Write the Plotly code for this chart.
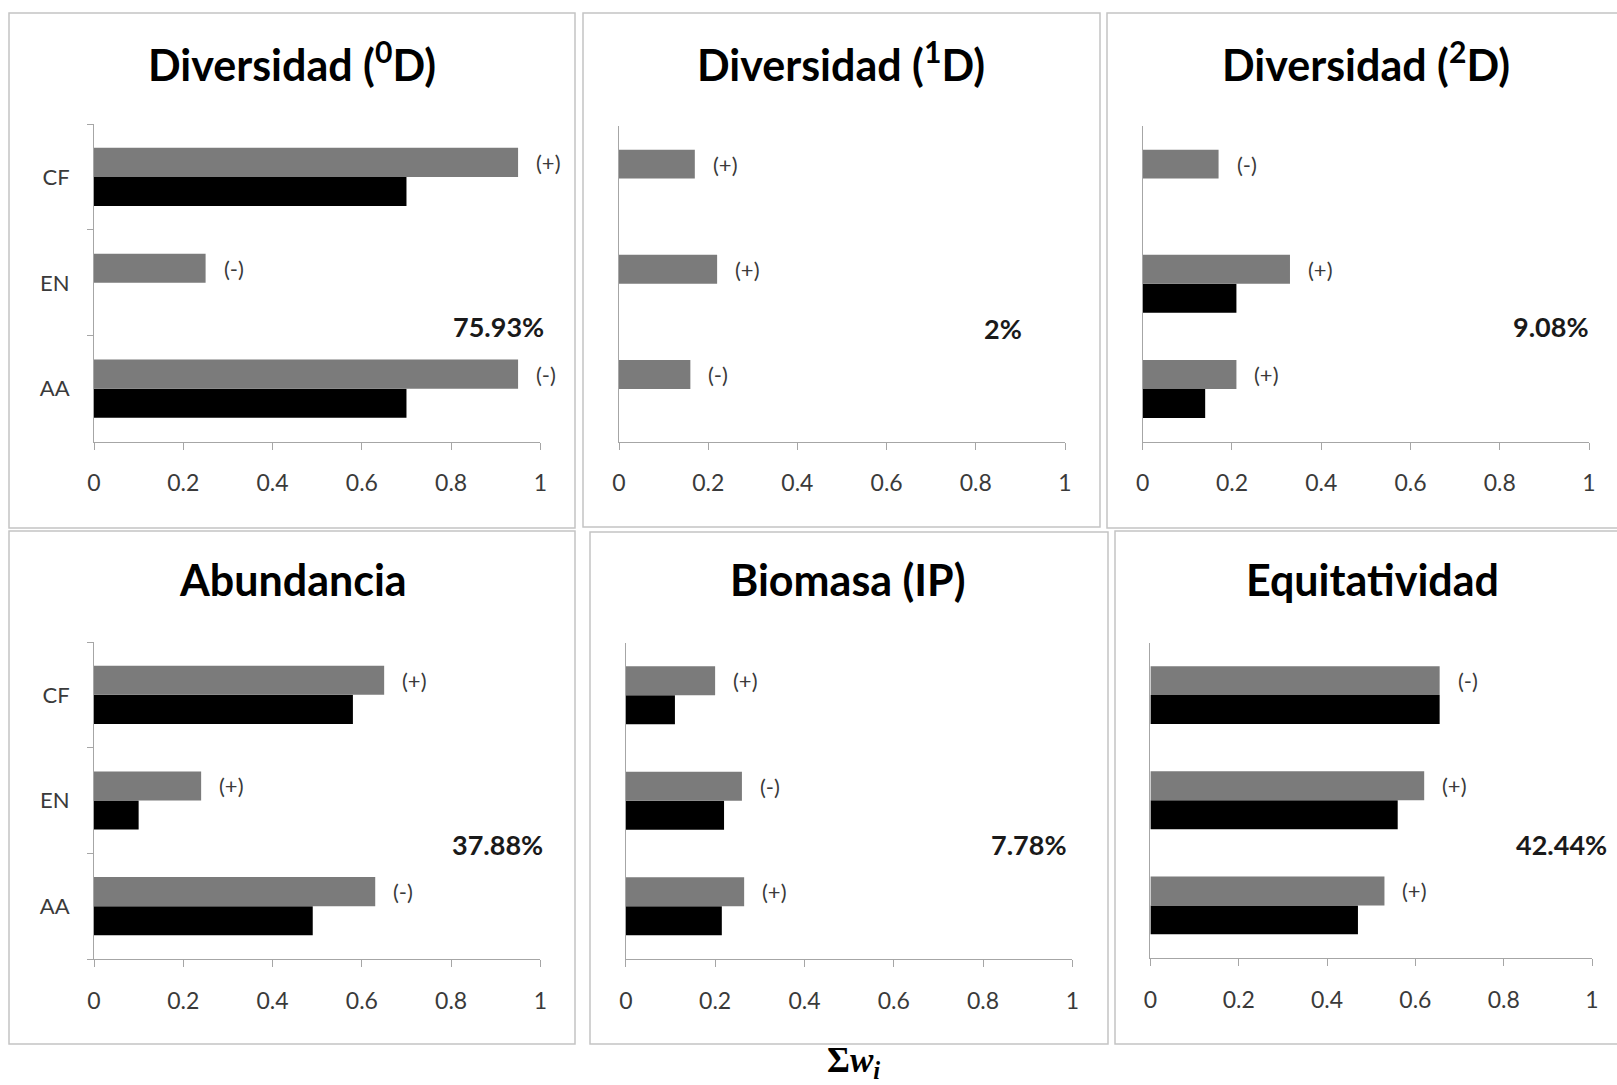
import plotly.graph_objects as go

# ---- data -------------------------------------------------------------
categories = ["AA", "EN", "CF"]          # bottom -> top
x_ticks = [0, 0.2, 0.4, 0.6, 0.8, 1]
x_tick_text = ["0", "0.2", "0.4", "0.6", "0.8", "1"]

titles = ["Diversidad (<sup>0</sup>D)", "Diversidad (<sup>1</sup>D)",
          "Diversidad (<sup>2</sup>D)", "Abundancia", "Biomasa (IP)",
          "Equitatividad"]

gray_0D = [0.95, 0.25, 0.95]
black_0D = [0.70, 0.0, 0.70]
signs_0D = ["(-)", "(-)", "(+)"]

gray_1D = [0.16, 0.22, 0.17]
black_1D = [0.0, 0.0, 0.0]
signs_1D = ["(-)", "(+)", "(+)"]

gray_2D = [0.21, 0.33, 0.17]
black_2D = [0.14, 0.21, 0.0]
signs_2D = ["(+)", "(+)", "(-)"]

gray_abund = [0.63, 0.24, 0.65]
black_abund = [0.49, 0.10, 0.58]
signs_abund = ["(-)", "(+)", "(+)"]

gray_biom = [0.265, 0.26, 0.20]
black_biom = [0.215, 0.22, 0.11]
signs_biom = ["(+)", "(-)", "(+)"]

gray_equit = [0.53, 0.62, 0.655]
black_equit = [0.47, 0.56, 0.655]
signs_equit = ["(+)", "(+)", "(-)"]

percentages = ["75.93%", "2%", "9.08%", "37.88%", "7.78%", "42.44%"]

gray_series = [gray_0D, gray_1D, gray_2D, gray_abund, gray_biom, gray_equit]
black_series = [black_0D, black_1D, black_2D, black_abund, black_biom, black_equit]
sign_series = [signs_0D, signs_1D, signs_2D, signs_abund, signs_biom, signs_equit]

# ---- layout geometry (pixels) ------------------------------------------
W, H = 1617, 1085
GRAY = "#7b7b7b"
AXIS = "#a6a6a6"
TEXT = "#3a3a3a"
FONT = "Lato"
BARGAP = 0.45

# plot areas: x0, x1, top, bottom
areas = [
    (94, 540.4, 124, 441.6),
    (619, 1065, 126, 441.6),
    (1142.7, 1589, 126, 441.6),
    (94, 540.4, 642, 959),
    (625.8, 1072.4, 642.5, 959),
    (1150.4, 1592, 642.5, 958),
]
# panel frames: x0, x1, y0, y1
frames = [
    (9, 575, 13, 528),
    (583, 1100, 13, 527),
    (1107, 1625, 13, 528),
    (9, 575, 531, 1044),
    (590, 1108, 532, 1044),
    (1115, 1625, 531, 1044),
]
title_pos = [(292, 61), (841, 61), (1366, 61), (293, 579), (848, 579), (1372, 579)]
pct_pos = [(546, 327), (1024, 328), (1591, 327), (545, 844), (1069, 844), (1609, 844)]
show_cats = [True, False, False, True, False, False]


def px(xp):
    return xp / W


def py(yp):
    return 1 - yp / H


fig = go.Figure()
annotations = []
shapes = []

for i in range(6):
    n = "" if i == 0 else str(i + 1)
    xa, ya = "x" + n, "y" + n
    fig.add_trace(go.Bar(
        y=categories, x=black_series[i], orientation="h",
        marker=dict(color="#000000", line=dict(width=0)),
        xaxis=xa, yaxis=ya, showlegend=False))
    fig.add_trace(go.Bar(
        y=categories, x=gray_series[i], orientation="h",
        marker=dict(color=GRAY, line=dict(width=0)),
        xaxis=xa, yaxis=ya, showlegend=False))

    x0, x1, top, bot = areas[i]
    fig.update_layout(**{
        "xaxis" + n: dict(
            domain=[px(x0), px(x1)], range=[0, 1], anchor=ya,
            automargin=False,
            tickvals=x_ticks, ticktext=x_tick_text,
            ticks="outside", ticklen=7, tickcolor=AXIS, tickwidth=1,
            showline=True, linecolor=AXIS, linewidth=1,
            showgrid=False, zeroline=False, fixedrange=True,
            ticklabelstandoff=14,
            tickfont=dict(family=FONT, size=23, color=TEXT)),
        "yaxis" + n: dict(
            domain=[py(bot), py(top)], anchor=xa,
            automargin=False,
            type="category", categoryorder="array", categoryarray=categories,
            range=[-0.5, 2.5],
            showline=True, linecolor=AXIS, linewidth=1,
            showgrid=False, zeroline=False, fixedrange=True,
            showticklabels=show_cats[i],
            ticks="outside" if show_cats[i] else "",
            tickson="boundaries", ticklen=6, tickcolor=AXIS,
            ticklabelstandoff=19,
            tickfont=dict(family=FONT, size=22, color=TEXT)),
    })

    # sign labels next to the gray bars (upper bar of each group)
    offset = (1 - BARGAP) / 4
    for k, cat in enumerate(categories):
        annotations.append(dict(
            x=gray_series[i][k], y=k + offset, xref=xa, yref=ya,
            text=sign_series[i][k], showarrow=False,
            xanchor="left", yanchor="middle", xshift=16,
            font=dict(family=FONT, size=22, color=TEXT)))

    # panel title
    tx, ty = title_pos[i]
    annotations.append(dict(
        x=px(tx), y=py(ty), xref="paper", yref="paper",
        text="<b>" + titles[i] + "</b>", showarrow=False,
        xanchor="center", yanchor="middle",
        font=dict(family=FONT, size=43, color="#000000")))

    # percentage label
    qx, qy = pct_pos[i]
    annotations.append(dict(
        x=px(qx), y=py(qy), xref="paper", yref="paper",
        text="<b>" + percentages[i] + "</b>", showarrow=False,
        xanchor="right", yanchor="middle",
        font=dict(family=FONT, size=27, color="#1a1a1a")))

    # panel frame
    fx0, fx1, fy0, fy1 = frames[i]
    shapes.append(dict(
        type="rect", xref="paper", yref="paper",
        x0=px(fx0), x1=px(fx1), y0=py(fy1), y1=py(fy0),
        line=dict(color="#c4c4c4", width=1.5), fillcolor="rgba(0,0,0,0)",
        layer="below"))

# common axis label
annotations.append(dict(
    x=px(853), y=0, xref="paper", yref="paper",
    text="<b>Σ<i>w</i></b><sub><b><i>i</i></b></sub>", showarrow=False,
    xanchor="center", yanchor="bottom", borderpad=0,
    font=dict(family="Liberation Serif", size=35, color="#000000")))

fig.update_layout(
    width=W, height=H, margin=dict(l=0, r=0, t=0, b=0),
    paper_bgcolor="#ffffff", plot_bgcolor="rgba(0,0,0,0)",
    barmode="group", bargap=BARGAP, bargroupgap=0,
    annotations=annotations, shapes=shapes, showlegend=False,
)

fig.write_html("out.html", config={"displayModeBar": False})
